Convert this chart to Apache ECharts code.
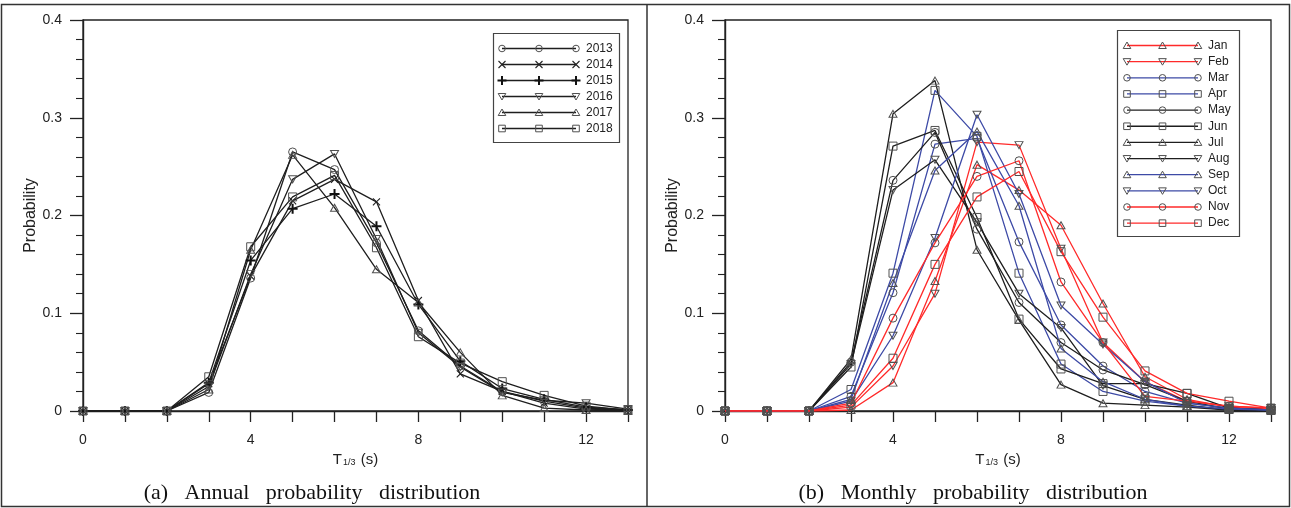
<!DOCTYPE html>
<html>
<head>
<meta charset="utf-8">
<script src="https://cdn.jsdelivr.net/npm/echarts@6/dist/echarts.min.js"></script>
<style>
html,body{margin:0;padding:0;background:#fff;}
#chart{width:1291px;height:508px;}
</style>
</head>
<body>
<div id="chart"></div>
<script>
// ---------- DATA ----------
const T = [0,1,2,3,4,5,6,7,8,9,10,11,12,13];
const xTickLabels = ['0','4','8','12'];
const yTickLabels = ['0','0.1','0.2','0.3','0.4'];

const yearNames = ['2013','2014','2015','2016','2017','2018'];
const y2013 = [0,0,0,0.019,0.136,0.265,0.247,0.172,0.082,0.046,0.020,0.010,0.003,0.001];
const y2014 = [0,0,0,0.028,0.138,0.215,0.237,0.214,0.113,0.038,0.020,0.008,0.002,0.001];
const y2015 = [0,0,0,0.029,0.154,0.207,0.222,0.189,0.109,0.051,0.023,0.012,0.004,0.001];
const y2016 = [0,0,0,0.025,0.140,0.237,0.263,0.176,0.080,0.045,0.019,0.011,0.008,0.002];
const y2017 = [0,0,0,0.022,0.165,0.262,0.208,0.145,0.111,0.060,0.016,0.003,0.001,0.000];
const y2018 = [0,0,0,0.035,0.168,0.219,0.241,0.167,0.076,0.049,0.030,0.016,0.005,0.001];

const monthNames = ['Jan','Feb','Mar','Apr','May','Jun','Jul','Aug','Sep','Oct','Nov','Dec'];
const mJan = [0,0,0,0.001,0.029,0.133,0.252,0.226,0.190,0.110,0.035,0.012,0.004,0.002];
const mFeb = [0,0,0,0.004,0.046,0.120,0.275,0.272,0.166,0.070,0.030,0.010,0.005,0.003];
const mMar = [0,0,0,0.015,0.121,0.273,0.279,0.173,0.088,0.046,0.020,0.008,0.003,0.001];
const mApr = [0,0,0,0.022,0.141,0.328,0.281,0.141,0.048,0.020,0.010,0.005,0.002,0.001];
const mMay = [0,0,0,0.050,0.236,0.285,0.186,0.111,0.070,0.042,0.027,0.010,0.002,0.001];
const mJun = [0,0,0,0.045,0.271,0.287,0.198,0.094,0.043,0.028,0.028,0.018,0.003,0.001];
const mJul = [0,0,0,0.053,0.304,0.338,0.165,0.093,0.027,0.008,0.006,0.004,0.001,0.000];
const mAug = [0,0,0,0.048,0.226,0.257,0.193,0.120,0.085,0.026,0.012,0.006,0.001,0.000];
const mSep = [0,0,0,0.012,0.131,0.246,0.286,0.210,0.064,0.030,0.012,0.005,0.002,0.001];
const mOct = [0,0,0,0.010,0.077,0.177,0.303,0.222,0.108,0.068,0.030,0.008,0.003,0.001];
const mNov = [0,0,0,0.008,0.095,0.172,0.240,0.256,0.132,0.070,0.015,0.010,0.005,0.003];
const mDec = [0,0,0,0.006,0.054,0.150,0.219,0.245,0.163,0.096,0.041,0.018,0.010,0.003];

// ---------- STYLE ----------
const RED = '#ff2a2a', BLUE = '#3d4aa6', BLACK = '#1e1e1e', MARK = '#505050';
const FONT = 'Liberation Sans';

const yearSeries = [
  {name:'2013', data:y2013, sym:'circle', color:BLACK},
  {name:'2014', data:y2014, sym:'x', color:BLACK},
  {name:'2015', data:y2015, sym:'plus', color:BLACK},
  {name:'2016', data:y2016, sym:'down', color:BLACK},
  {name:'2017', data:y2017, sym:'up', color:BLACK},
  {name:'2018', data:y2018, sym:'square', color:BLACK}
];
const monthSeries = [
  {name:'Jan', data:mJan, sym:'up', color:RED},
  {name:'Feb', data:mFeb, sym:'down', color:RED},
  {name:'Mar', data:mMar, sym:'circle', color:BLUE},
  {name:'Apr', data:mApr, sym:'square', color:BLUE},
  {name:'May', data:mMay, sym:'circle', color:BLACK},
  {name:'Jun', data:mJun, sym:'square', color:BLACK},
  {name:'Jul', data:mJul, sym:'up', color:BLACK},
  {name:'Aug', data:mAug, sym:'down', color:BLACK},
  {name:'Sep', data:mSep, sym:'up', color:BLUE},
  {name:'Oct', data:mOct, sym:'down', color:BLUE},
  {name:'Nov', data:mNov, sym:'circle', color:RED},
  {name:'Dec', data:mDec, sym:'square', color:RED}
];

const PLUS_PATH = 'path://M4,0H6V4H10V6H6V10H4V6H0V4H4Z';
const X_PATH = 'path://M4.45,0H5.55V4.45H10V5.55H5.55V10H4.45V5.55H0V4.45H4.45Z';

function symbolOpts(sym){
  const hollow = {color:'transparent', borderColor:MARK, borderWidth:1};
  switch(sym){
    case 'circle': return {symbol:'circle', symbolSize:8, itemStyle:hollow};
    case 'square': return {symbol:'rect', symbolSize:8, itemStyle:hollow};
    case 'up': return {symbol:'triangle', symbolSize:[8,7], itemStyle:hollow};
    case 'down': return {symbol:'triangle', symbolSize:[8,7], symbolRotate:180, itemStyle:hollow};
    case 'plus': return {symbol:PLUS_PATH, symbolSize:10, itemStyle:{color:'#111', borderWidth:0}};
    case 'x': return {symbol:X_PATH, symbolSize:10, symbolRotate:45, itemStyle:{color:'#222', borderWidth:0}};
  }
}

function makeSeries(list, idx, lw){
  return list.map(s => Object.assign({
    name:s.name, type:'line', xAxisIndex:idx, yAxisIndex:idx,
    data: T.map((t,i)=>[t, s.data[i]]),
    lineStyle:{color:s.color, width:lw},
    showSymbol:true, animation:false, silent:true,
    emphasis:{disabled:true}
  }, symbolOpts(s.sym)));
}

// ---------- AXES ----------
function xAxisOpt(idx){
  return {
    type:'value', gridIndex:idx, min:0, max:13, interval:1,
    axisLine:{show:true, onZero:false, lineStyle:{color:'#222', width:1.4}},
    axisTick:{show:true, length:11, lineStyle:{color:'#222', width:1.3}},
    splitLine:{show:false},
    axisLabel:{margin:22, fontSize:14, color:'#222', fontFamily:FONT,
      formatter: v => xTickLabels.indexOf(String(v))>=0 ? String(v) : ''},
    name:'T{sub|1/3} (s)', nameLocation:'middle', nameGap:40,
    nameTextStyle:{fontSize:15, color:'#222', fontFamily:FONT,
      rich:{sub:{fontSize:9, color:'#222', fontFamily:FONT, padding:[7,1,0,1]}}}
  };
}
function yAxisOpt(idx){
  return {
    type:'value', gridIndex:idx, min:0, max:0.4, interval:0.1,
    axisLine:{show:true, onZero:false, lineStyle:{color:'#222', width:1.4}},
    axisTick:{show:true, length:13, lineStyle:{color:'#222', width:1.3}},
    minorTick:{show:true, splitNumber:5, length:7, lineStyle:{color:'#222', width:1.1}},
    splitLine:{show:false},
    axisLabel:{margin:21, fontSize:14, color:'#222', fontFamily:FONT,
      formatter: v => yTickLabels[Math.round(v*10)]},
    name:'Probability', nameLocation:'middle', nameGap:44,
    nameTextStyle:{fontSize:16, color:'#222', fontFamily:FONT}
  };
}

// ---------- LEGEND (graphic) ----------
function markerGraphic(sym, cx, cy){
  const st = {fill:'transparent', stroke:MARK, lineWidth:1};
  switch(sym){
    case 'circle': return [{type:'circle', shape:{cx, cy, r:3.3}, style:st}];
    case 'square': return [{type:'rect', shape:{x:cx-3.3, y:cy-3.3, width:6.6, height:6.6}, style:st}];
    case 'up': return [{type:'polygon', shape:{points:[[cx,cy-3.5],[cx+3.8,cy+3],[cx-3.8,cy+3]]}, style:st}];
    case 'down': return [{type:'polygon', shape:{points:[[cx,cy+3.5],[cx+3.8,cy-3],[cx-3.8,cy-3]]}, style:st}];
    case 'plus': return [
      {type:'line', shape:{x1:cx-4.5, y1:cy, x2:cx+4.5, y2:cy}, style:{stroke:'#111', lineWidth:2}},
      {type:'line', shape:{x1:cx, y1:cy-4.5, x2:cx, y2:cy+4.5}, style:{stroke:'#111', lineWidth:2}}];
    case 'x': return [
      {type:'line', shape:{x1:cx-3.5, y1:cy-3.5, x2:cx+3.5, y2:cy+3.5}, style:{stroke:'#222', lineWidth:1.1}},
      {type:'line', shape:{x1:cx-3.5, y1:cy+3.5, x2:cx+3.5, y2:cy-3.5}, style:{stroke:'#222', lineWidth:1.1}}];
  }
}
function legendGraphic(list, box, x1, x2, xText, y0, dy, lw){
  const els = [{type:'rect', shape:box, style:{fill:'#fff', stroke:'#444', lineWidth:1.2}, z:50}];
  list.forEach((s,i)=>{
    const y = y0 + i*dy;
    els.push({type:'line', shape:{x1, y1:y, x2, y2:y}, style:{stroke:s.color, lineWidth:lw}, z:51});
    [x1,(x1+x2)/2,x2].forEach(cx => markerGraphic(s.sym, cx, y).forEach(m => {m.z=52; els.push(m);}));
    els.push({type:'text', z:52, style:{text:s.name, x:xText, y:y, font:'12px "Liberation Sans"', fill:'#222',
      textAlign:'left', textVerticalAlign:'middle', align:'left', verticalAlign:'middle'}});
  });
  return els;
}

const CAP_FONT = '22px "Liberation Serif"';
const graphics = [].concat(
  [{type:'rect', shape:{x:1.5, y:4.5, width:1288, height:502}, style:{fill:'transparent', stroke:'#333', lineWidth:1.5}, z:60},
   {type:'line', shape:{x1:647, y1:4.5, x2:647, y2:506.5}, style:{stroke:'#333', lineWidth:1.5}, z:60},
   {type:'text', z:60, style:{text:'(a)   Annual   probability   distribution', x:312, y:493,
     font:CAP_FONT, fill:'#111', textAlign:'center', textVerticalAlign:'middle', align:'center', verticalAlign:'middle'}},
   {type:'text', z:60, style:{text:'(b)   Monthly   probability   distribution', x:973, y:493,
     font:CAP_FONT, fill:'#111', textAlign:'center', textVerticalAlign:'middle', align:'center', verticalAlign:'middle'}}],
  legendGraphic(yearSeries, {x:493.5, y:33.5, width:126, height:109}, 502, 576, 586, 48.5, 16, 1.3),
  legendGraphic(monthSeries, {x:1117.5, y:30.5, width:122, height:206}, 1127, 1198, 1208, 45.5, 16.15, 1.3)
);

const option = {
  backgroundColor:'#fff',
  animation:false,
  grid:[
    {left:83, top:20, width:545, height:391, show:true, borderColor:'#222', borderWidth:1.3, backgroundColor:'transparent'},
    {left:725, top:20, width:546, height:391, show:true, borderColor:'#222', borderWidth:1.3, backgroundColor:'transparent'}
  ],
  xAxis:[xAxisOpt(0), xAxisOpt(1)],
  yAxis:[yAxisOpt(0), yAxisOpt(1)],
  series: makeSeries(yearSeries, 0, 1.3).concat(makeSeries(monthSeries, 1, 1.3)),
  graphic: graphics
};

const chart = echarts.init(document.getElementById('chart'), null, {renderer:'canvas', width:1291, height:508});
chart.setOption(option);
</script>
</body>
</html>
